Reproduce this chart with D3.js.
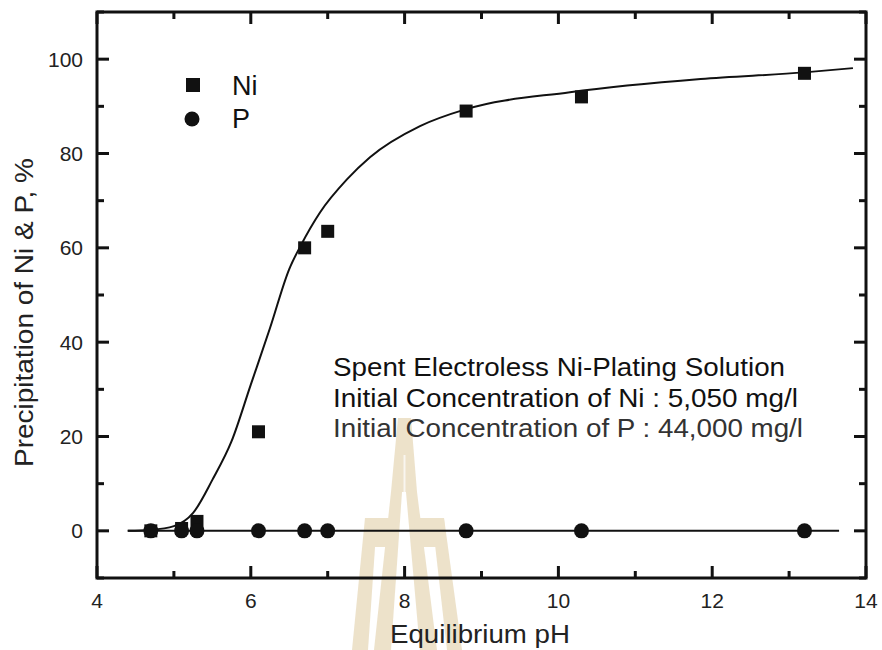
<!DOCTYPE html>
<html>
<head>
<meta charset="utf-8">
<script src="https://cdn.jsdelivr.net/npm/d3@7"></script>
<style>
  html, body { margin: 0; padding: 0; background: #fff; }
  svg { display: block; font-family: "Liberation Sans", Arial, Helvetica, sans-serif; }
</style>
</head>
<body>
<svg id="chart" width="882" height="650"></svg>
<script>
// Measured points: equilibrium pH and precipitation (%)
const phNi = [4.7, 5.1, 5.3, 6.1, 6.7, 7.0, 8.8, 10.3, 13.2];
const niPct = [0, 0.5, 2, 21, 60, 63.5, 89, 92, 97];
const phP = [4.7, 5.1, 5.3, 6.1, 6.7, 7.0, 8.8, 10.3, 13.2];
const pPct = [0, 0, 0, 0, 0, 0, 0, 0, 0];

// Fitted trend for Ni and the flat line for P
const fitPh = [4.4, 4.7, 5.0, 5.25, 5.5, 5.75, 6.0, 6.25, 6.5, 6.65, 6.9, 7.25, 7.55, 8.2, 8.8, 10.15, 11.85, 13.2, 13.83];
const fitNi = [0, 0.2, 1, 3.8, 10.8, 19, 31, 43, 55.5, 60.5, 67.5, 74.5, 79.2, 85.8, 89.4, 93, 95.8, 97.2, 98.1];
const pLinePh = [4.4, 13.65];
const pLinePct = [0, 0];

// Axis ticks
const xMajor = [4, 6, 8, 10, 12, 14];
const xMinor = [5, 7, 9, 11, 13];
const yMajor = [0, 20, 40, 60, 80, 100];
const yMinor = [-10, 10, 30, 50, 70, 90, 110];

const xTitle = "Equilibrium pH";
const yTitle = "Precipitation of Ni & P, %";
const legendNames = ["Ni", "P"];
const noteLines = [
  "Spent Electroless Ni-Plating Solution",
  "Initial Concentration of Ni : 5,050 mg/l",
  "Initial Concentration of P : 44,000 mg/l"
];

const svg = d3.select("#chart");
const m = { left: 97, top: 12, right: 16, bottom: 72 };
const W = 882 - m.left - m.right;   // 769
const H = 650 - m.top - m.bottom;   // 566
const plotL = m.left, plotR = m.left + W, plotB = m.top + H, plotT = m.top;

const x = d3.scaleLinear().domain([4, 14]).range([plotL, plotR]);
const y = d3.scaleLinear().domain([-10, 110]).range([plotB, plotT]);

// Faint institutional watermark behind the plot
const wm = svg.append("g").attr("fill", "#dcc697").attr("opacity", 0.5);
const wmShapes = [
  "M398,418 L411,418 L417,492 L391,492 Z",
  "M391,492 L402,492 L391,650 L374,650 Z",
  "M406,492 L417,492 L437,650 L420,650 Z",
  "M365,518 L377,518 L368,650 L352,650 Z",
  "M432,518 L444,518 L462,650 L447,650 Z",
  "M365,518 L396,518 L394,547 L365,547 Z",
  "M414,518 L444,518 L446,547 L416,547 Z"
];
wm.selectAll("path").data(wmShapes).join("path").attr("d", d => d);
svg.append("line").attr("x1", 404.5).attr("x2", 404.5).attr("y1", 455).attr("y2", 492)
  .attr("stroke", "#fff").attr("stroke-width", 2).attr("opacity", 0.7);

// Plot frame
svg.append("rect").attr("x", plotL).attr("y", plotT).attr("width", W).attr("height", H)
  .attr("fill", "none").attr("stroke", "#111").attr("stroke-width", 3);

// Inward ticks on all four sides
const major = 12, minor = 7, tw = 3;
const tickG = svg.append("g").attr("fill", "#111");
const xTicks = xMajor.map(v => ({ v, len: major })).concat(xMinor.map(v => ({ v, len: minor })));
const yTicks = yMajor.map(v => ({ v, len: major })).concat(yMinor.map(v => ({ v, len: minor })));
xTicks.forEach(t => {
  tickG.append("rect").attr("x", x(t.v) - tw / 2).attr("y", plotB - t.len).attr("width", tw).attr("height", t.len);
  tickG.append("rect").attr("x", x(t.v) - tw / 2).attr("y", plotT).attr("width", tw).attr("height", t.len);
});
yTicks.forEach(t => {
  tickG.append("rect").attr("x", plotL).attr("y", y(t.v) - tw / 2).attr("width", t.len).attr("height", tw);
  tickG.append("rect").attr("x", plotR - t.len).attr("y", y(t.v) - tw / 2).attr("width", t.len).attr("height", tw);
});

// Tick labels
const fmt = d3.format("d");
svg.append("g").selectAll("text").data(xMajor).join("text")
  .attr("x", d => x(d)).attr("y", plotB + 30).attr("text-anchor", "middle")
  .attr("font-size", 21).attr("fill", "#222").text(fmt);
svg.append("g").selectAll("text").data(yMajor).join("text")
  .attr("x", plotL - 14).attr("y", d => y(d) + 7.5).attr("text-anchor", "end")
  .attr("font-size", 21).attr("fill", "#222").text(fmt);

// Trend lines
const line = d3.line().x(d => x(d[0])).y(d => y(d[1]));
svg.append("path")
  .datum(d3.zip(pLinePh, pLinePct))
  .attr("d", line)
  .attr("fill", "none").attr("stroke", "#111").attr("stroke-width", 2);
svg.append("path")
  .datum(d3.zip(fitPh, fitNi))
  .attr("d", line.curve(d3.curveMonotoneX))
  .attr("fill", "none").attr("stroke", "#111").attr("stroke-width", 2);

// Markers
const sq = 13, r = 7.5;
svg.append("g").selectAll("rect").data(d3.zip(phNi, niPct)).join("rect")
  .attr("x", d => x(d[0]) - sq / 2).attr("y", d => y(d[1]) - sq / 2)
  .attr("width", sq).attr("height", sq).attr("fill", "#111");
svg.append("g").selectAll("circle").data(d3.zip(phP, pPct)).join("circle")
  .attr("cx", d => x(d[0])).attr("cy", d => y(d[1])).attr("r", r).attr("fill", "#111");

// Legend
const lg = svg.append("g");
lg.append("rect").attr("x", 193 - sq / 2 - 0.5).attr("y", 85 - sq / 2 - 0.5)
  .attr("width", sq + 1).attr("height", sq + 1).attr("fill", "#111");
lg.append("circle").attr("cx", 192).attr("cy", 119).attr("r", r).attr("fill", "#111");
lg.selectAll("text").data(legendNames).join("text")
  .attr("x", 232).attr("y", (d, i) => 95 + i * 33)
  .attr("font-size", 27).attr("fill", "#111").text(d => d);

// Annotation
const noteW = [452, 465, 470];
const noteFill = ["#111", "#111", "#333"];
svg.append("g").selectAll("text").data(noteLines).join("text")
  .attr("x", 333).attr("y", (d, i) => 376 + i * 30.5)
  .attr("font-size", 25).attr("fill", (d, i) => noteFill[i])
  .attr("textLength", (d, i) => noteW[i]).attr("lengthAdjust", "spacingAndGlyphs")
  .text(d => d);

// Axis titles
svg.append("text").attr("x", 480).attr("y", 643).attr("text-anchor", "middle")
  .attr("font-size", 26).attr("fill", "#222")
  .attr("textLength", 180).attr("lengthAdjust", "spacingAndGlyphs").text(xTitle);
svg.append("text").attr("transform", "translate(33,312.5) rotate(-90)").attr("text-anchor", "middle")
  .attr("font-size", 25).attr("fill", "#222")
  .attr("textLength", 309).attr("lengthAdjust", "spacingAndGlyphs").text(yTitle);
</script>
</body>
</html>
